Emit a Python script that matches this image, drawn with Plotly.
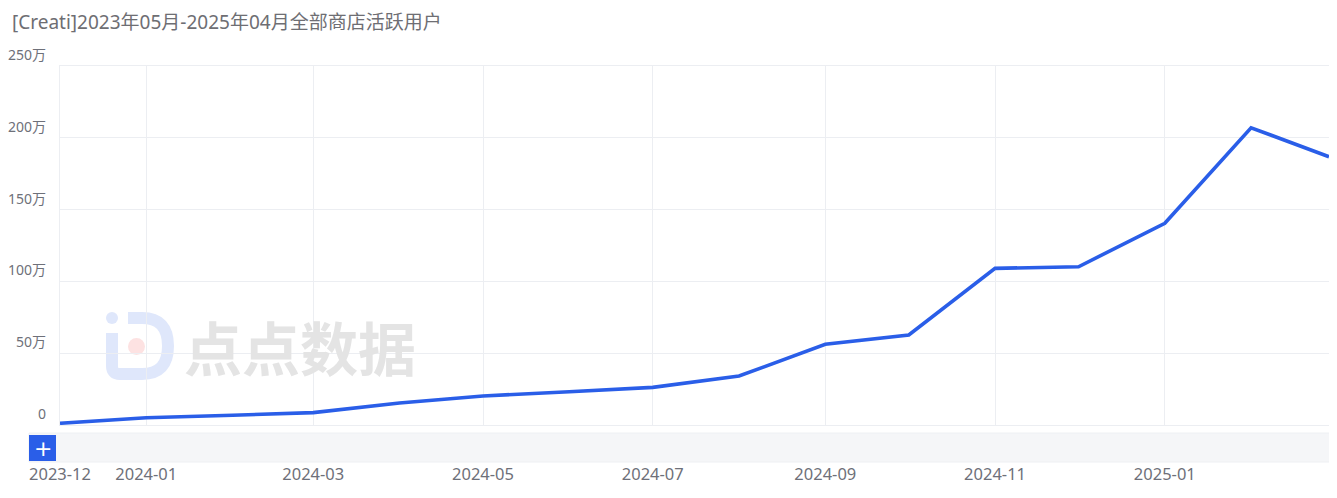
import plotly.graph_objects as go

# ---- data ----
months = ["2023-12-01", "2024-01-01", "2024-02-01", "2024-03-01", "2024-04-01",
          "2024-05-01", "2024-06-01", "2024-07-01", "2024-08-01", "2024-09-01",
          "2024-10-01", "2024-11-01", "2024-12-01", "2025-01-01", "2025-02-01",
          "2025-03-01"]
active_users_wan = [1.2, 5.1, 6.8, 8.6, 15.3, 20.2, 23.2, 26.2, 34.1, 56.2,
                    62.7, 109.1, 110.2, 140.5, 207.0, 186.8]
x_tick_vals = ["2023-12-01", "2024-01-01", "2024-03-01", "2024-05-01", "2024-07-01",
               "2024-09-01", "2024-11-01", "2025-01-01"]
x_tick_text = ["2023-12", "2024-01", "2024-03", "2024-05", "2024-07",
               "2024-09", "2024-11", "2025-01"]
y_tick_vals = [0, 50, 100, 150, 200, 250]
y_tick_text = ["0", "50万", "100万", "150万", "200万", "250万"]
title_text = "[Creati]2023年05月-2025年04月全部商店活跃用户"

# ---- layout geometry (screen pixels; page body has an 8px margin) ----
OFF = 8
W, H = 1321, 482
L, R, T, B = 60 - OFF, 1329 - OFF, 66 - OFF, 425 - OFF
FONT = "Noto Sans, Noto Sans CJK SC, sans-serif"
CJK = "Noto Sans CJK SC, sans-serif"
GRID = "#eceef2"
LABEL = "#6e7079"


def px(xs):
    return (xs - OFF - L) / (R - L)


def py(ys):
    return (B - (ys - OFF)) / (B - T)


fig = go.Figure()
fig.add_trace(go.Scatter(
    x=months, y=active_users_wan, mode="lines",
    line=dict(color="#2a5ee8", width=3.6),
    hoverinfo="skip", showlegend=False,
))

shapes = []
# watermark logo (iD)
logo_path = ("M {} {} L {} {} Q {} {} {} {} Q {} {} {} {} L {} {} Q {} {} {} {} L {} {}").format(
    px(128), py(318), px(142), py(318),
    px(168), py(318), px(168), py(346),
    px(168), py(374), px(142), py(374),
    px(120), py(374),
    px(112), py(374), px(112), py(366),
    px(112), py(333),
)
shapes.append(dict(type="path", xref="paper", yref="paper", path=logo_path,
                   line=dict(color="#dfe7fb", width=12), layer="below"))
shapes.append(dict(type="circle", xref="paper", yref="paper",
                   x0=px(106), x1=px(118), y0=py(324), y1=py(312),
                   fillcolor="#dfe7fb", line=dict(width=0), layer="below"))
shapes.append(dict(type="circle", xref="paper", yref="paper",
                   x0=px(128), x1=px(145), y0=py(355), y1=py(338),
                   fillcolor="#fde2e2", line=dict(width=0), layer="below"))
# slider bar
shapes.append(dict(type="rect", xref="paper", yref="paper",
                   x0=px(29), x1=px(1330), y0=py(462), y1=py(433),
                   fillcolor="#f5f6f8", line=dict(color="#eef0f3", width=1)))
# slider button
shapes.append(dict(type="rect", xref="paper", yref="paper",
                   x0=px(29), x1=px(56), y0=py(461), y1=py(435),
                   fillcolor="#2a5ee8", line=dict(width=0)))

annotations = []
for v, t in zip(y_tick_vals, y_tick_text):
    annotations.append(dict(x=px(47.5), xref="paper", y=v, yref="y",
                            text=t, showarrow=False, xanchor="right",
                            yanchor="bottom", yshift=0,
                            font=dict(family=FONT, size=14, color=LABEL)))
annotations.append(dict(x=px(42.5), xref="paper", y=py(448), yref="paper",
                        text="+", showarrow=False, xanchor="center", yanchor="middle",
                        font=dict(family="DejaVu Sans", size=22, color="white")))
annotations.append(dict(x=px(300), xref="paper", y=py(346), yref="paper",
                        text="<b>点点数据</b>", showarrow=False,
                        xanchor="center", yanchor="middle",
                        font=dict(family=CJK, size=58, color="#e4e4e4")))

fig.update_layout(
    width=W, height=H,
    margin=dict(l=L, r=W - R, t=T, b=H - B, pad=0),
    paper_bgcolor="white", plot_bgcolor="white",
    title=dict(text=title_text, x=(12 - OFF) / W, xanchor="left",
               y=1 - (22 - OFF) / H, yanchor="middle",
               font=dict(family=FONT, size=19, color="#6e6e73")),
    xaxis=dict(
        type="date", range=["2023-12-01", "2025-03-01"],
        tickmode="array", tickvals=x_tick_vals, ticktext=x_tick_text,
        showgrid=True, gridcolor=GRID, gridwidth=1,
        showline=True, mirror=True, linecolor=GRID, linewidth=1,
        zeroline=False, ticks="", ticklabelstandoff=34,
        tickfont=dict(family=FONT, size=16.5, color=LABEL),
        fixedrange=True,
    ),
    yaxis=dict(
        range=[0, 250], tickmode="array", tickvals=y_tick_vals,
        showticklabels=False, showgrid=True, gridcolor=GRID, gridwidth=1,
        showline=True, mirror=True, linecolor=GRID, linewidth=1,
        zeroline=False, fixedrange=True,
    ),
    shapes=shapes, annotations=annotations,
    showlegend=False,
)

fig.write_html("out.html")
